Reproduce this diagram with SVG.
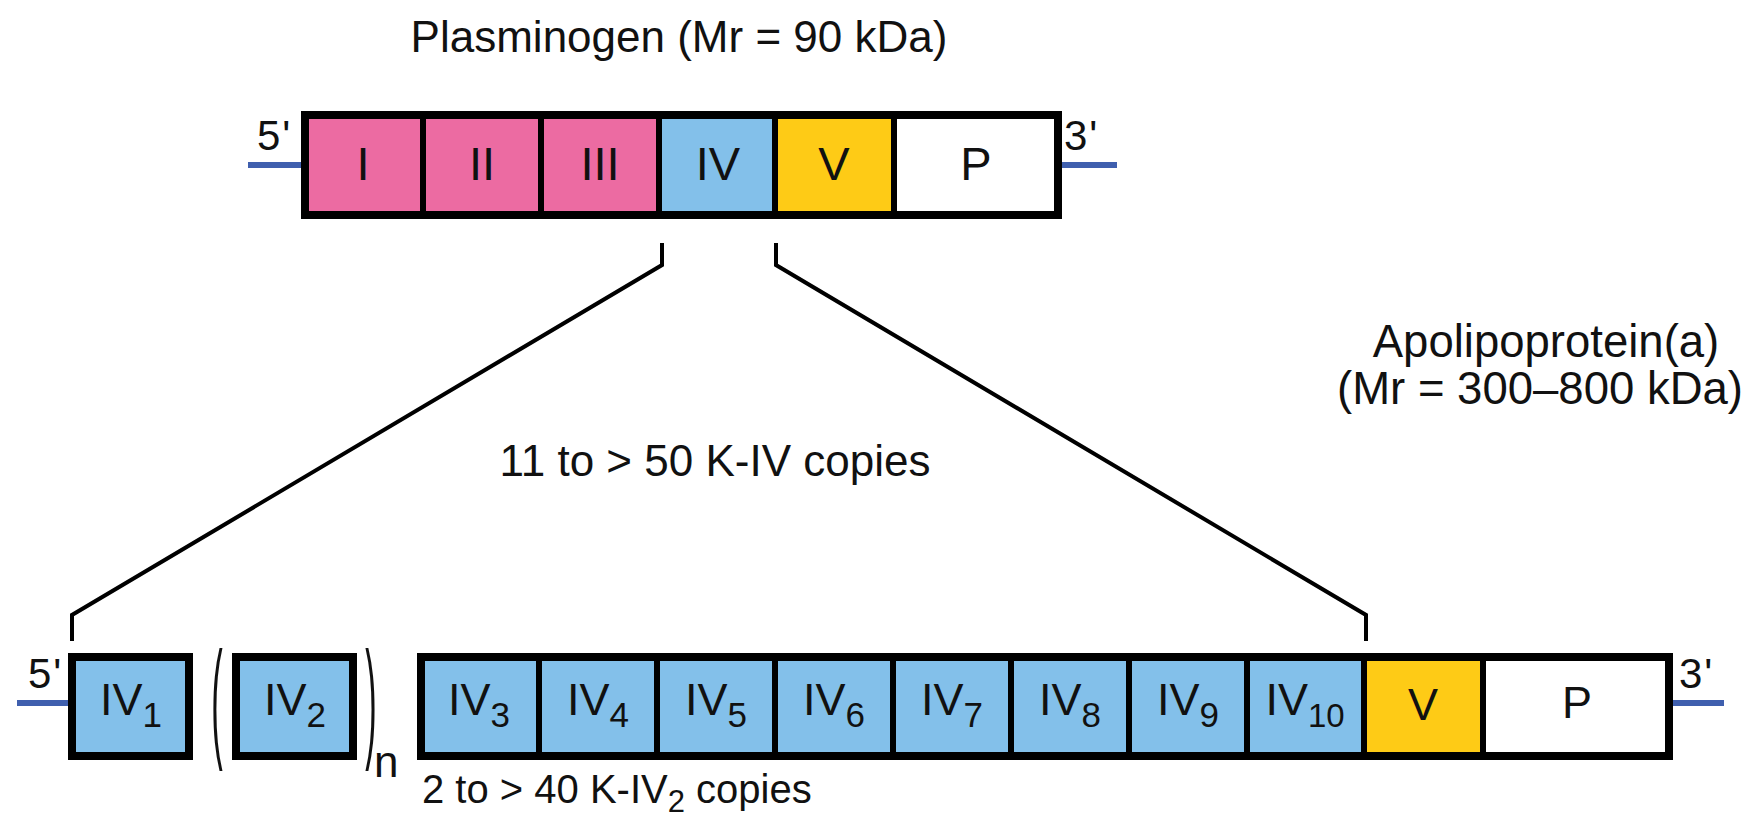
<svg xmlns="http://www.w3.org/2000/svg" width="1750" height="814" viewBox="0 0 1750 814">
<style>
text{font-family:"Liberation Sans",Arial,sans-serif;fill:#111}
.t{font-size:44px}
.lab{font-size:47px;text-anchor:middle}
.lab2{font-size:45px;text-anchor:middle}
.sub{font-size:35px}
.end{font-size:42px;letter-spacing:2px}
.seg{stroke:#000;stroke-width:6}
.frame{fill:none;stroke:#000;stroke-width:8}
.k{fill:#ec6ba2}.b{fill:#83c0ea}.y{fill:#fecb16}.w{fill:#fff}
.dna{stroke:#3f5fae;stroke-width:6}
.conn{fill:none;stroke:#000;stroke-width:4;stroke-linejoin:miter}
</style>
<rect width="1750" height="814" fill="#fff"/>
<text class="t" x="679" y="52" text-anchor="middle">Plasminogen (Mr = 90 kDa)</text>
<text style="font-size:45.5px" x="1546" y="357" text-anchor="middle">Apolipoprotein(a)</text>
<text style="font-size:45.5px" x="1540" y="404" text-anchor="middle">(Mr = 300–800 kDa)</text>
<text class="t" x="715" y="476" text-anchor="middle">11 to &gt; 50 K-IV copies</text>
<text style="font-size:40px" x="422" y="803">2 to &gt; 40 K-IV<tspan style="font-size:31px" dy="9">2</tspan><tspan dy="-9"> copies</tspan></text>

<g id="connectors">
<line class="dna" x1="248" y1="165" x2="302" y2="165"/>
<line class="dna" x1="1061" y1="165" x2="1117" y2="165"/>
<line class="dna" x1="17" y1="703" x2="69" y2="703"/>
<line class="dna" x1="1672" y1="703" x2="1724" y2="703"/>
<polyline class="conn" points="662,243 662,265 72,615 72,641"/>
<polyline class="conn" points="776,243 776,265 1366,615 1366,641"/>
</g>

<g id="plasminogen">
<text class="end" x="257" y="150">5'</text>
<text class="end" x="1064" y="150">3'</text>
<g id="p-I"><rect class="seg k" x="305" y="115" width="118" height="100"/><text class="lab" x="363" y="180">I</text></g>
<g id="p-II"><rect class="seg k" x="423" y="115" width="118" height="100"/><text class="lab" x="482" y="180">II</text></g>
<g id="p-III"><rect class="seg k" x="541" y="115" width="118" height="100"/><text class="lab" x="600" y="180">III</text></g>
<g id="p-IV"><rect class="seg b" x="659" y="115" width="116" height="100"/><text class="lab" x="718" y="180">IV</text></g>
<g id="p-V"><rect class="seg y" x="775" y="115" width="119" height="100"/><text class="lab" x="834" y="180">V</text></g>
<g id="p-P"><rect class="seg w" x="894" y="115" width="164" height="100"/><text class="lab" x="976" y="180">P</text></g>
<rect class="frame" x="305" y="115" width="753" height="100"/>
</g>

<g id="apoa">
<text class="end" x="28" y="688">5'</text>
<text class="end" x="1679" y="688">3'</text>
<g id="a-IV1"><rect class="b" x="72" y="657" width="117" height="99" stroke="#000" stroke-width="8"/><text class="lab2" x="131" y="715">IV<tspan class="sub" dy="12">1</tspan></text></g>
<g id="a-repeat">
<text transform="translate(217,744) scale(0.26,1)" style="font-size:132px" text-anchor="middle">(</text>
<rect class="b" x="236" y="657" width="117" height="99" stroke="#000" stroke-width="8"/><text class="lab2" x="295" y="715">IV<tspan class="sub" dy="12">2</tspan></text>
<text transform="translate(371,744) scale(0.26,1)" style="font-size:132px" text-anchor="middle">)</text>
<text x="374" y="777" style="font-size:44px">n</text>
</g>
<g id="a-IV3"><rect class="seg b" x="421" y="657" width="118" height="99"/><text class="lab2" x="479" y="715">IV<tspan class="sub" dy="12">3</tspan></text></g>
<g id="a-IV4"><rect class="seg b" x="539" y="657" width="118" height="99"/><text class="lab2" x="598" y="715">IV<tspan class="sub" dy="12">4</tspan></text></g>
<g id="a-IV5"><rect class="seg b" x="657" y="657" width="118" height="99"/><text class="lab2" x="716" y="715">IV<tspan class="sub" dy="12">5</tspan></text></g>
<g id="a-IV6"><rect class="seg b" x="775" y="657" width="118" height="99"/><text class="lab2" x="834" y="715">IV<tspan class="sub" dy="12">6</tspan></text></g>
<g id="a-IV7"><rect class="seg b" x="893" y="657" width="118" height="99"/><text class="lab2" x="952" y="715">IV<tspan class="sub" dy="12">7</tspan></text></g>
<g id="a-IV8"><rect class="seg b" x="1011" y="657" width="118" height="99"/><text class="lab2" x="1070" y="715">IV<tspan class="sub" dy="12">8</tspan></text></g>
<g id="a-IV9"><rect class="seg b" x="1129" y="657" width="118" height="99"/><text class="lab2" x="1188" y="715">IV<tspan class="sub" dy="12">9</tspan></text></g>
<g id="a-IV10"><rect class="seg b" x="1247" y="657" width="117" height="99"/><text class="lab2" x="1305" y="715">IV<tspan style="font-size:33px" dy="12">10</tspan></text></g>
<g id="a-V"><rect class="seg y" x="1364" y="657" width="119" height="99"/><text class="lab2" x="1423" y="720">V</text></g>
<g id="a-P"><rect class="seg w" x="1483" y="657" width="186" height="99"/><text class="lab2" x="1577" y="718">P</text></g>
<rect class="frame" x="421" y="657" width="1248" height="99"/>
</g>
</svg>
